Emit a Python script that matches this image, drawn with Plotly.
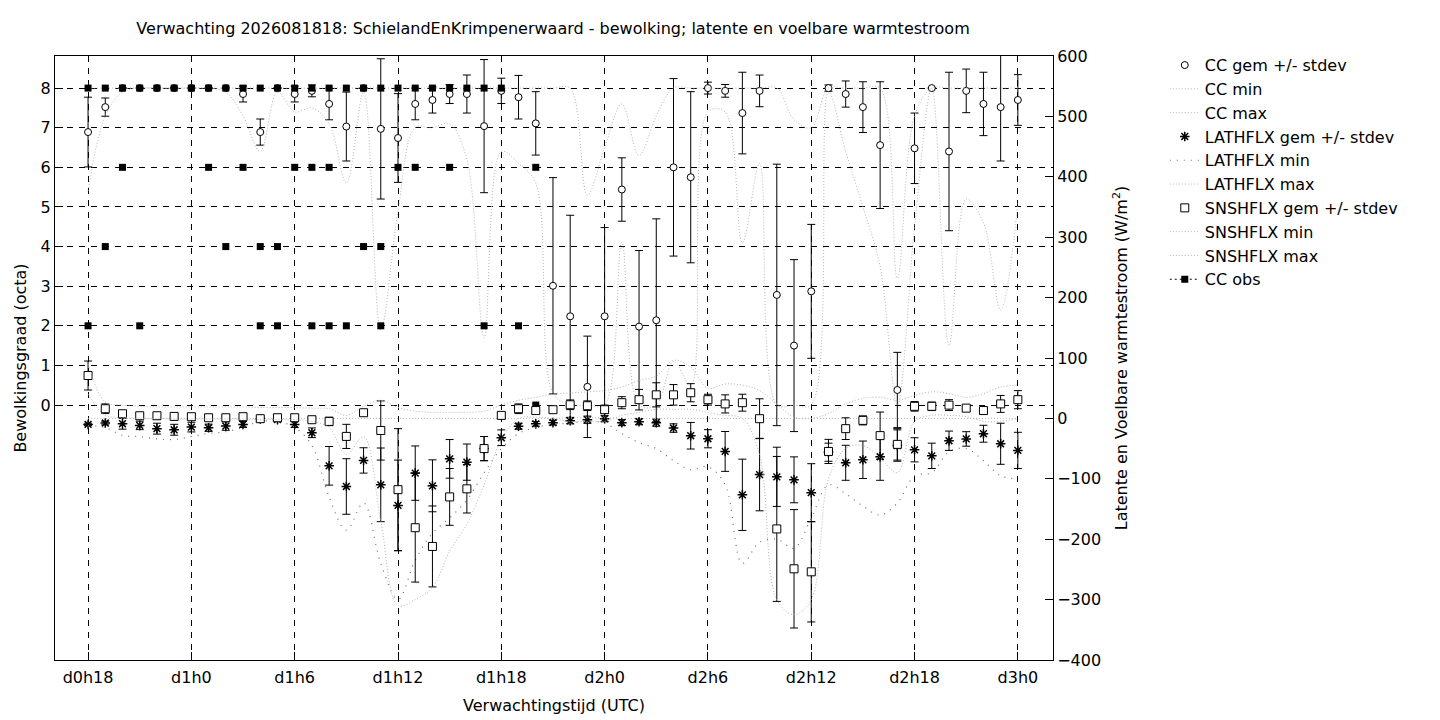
import plotly.graph_objects as go

# forecast hours since d0h0 (one per hour, d0h18 .. d3h0)
hours = list(range(18, 73))

tick_hours = [18, 24, 30, 36, 42, 48, 54, 60, 66, 72]
tick_labels = ["d0h18", "d1h0", "d1h6", "d1h12", "d1h18", "d2h0", "d2h6", "d2h12", "d2h18", "d3h0"]

# cloud cover (octa)
cc_mean = [6.89, 7.52, 8, 8, 8, 8, 8, 8, 8, 7.85, 6.89, 8, 7.85, 7.93, 7.6, 7.03, 8, 6.97, 6.74,
           7.6, 7.7, 7.85, 7.85, 7.04, 7.93, 7.77, 7.11, 3.01, 2.24, 0.46, 2.24, 5.44, 1.98, 2.14,
           6.0, 5.75, 8.0, 7.93, 7.37, 7.93, 2.78, 1.5, 2.87, 8.0, 7.85, 7.52, 6.56, 0.38, 6.48,
           8.0, 6.4, 7.93, 7.6, 7.52, 7.7]
cc_std = [0.88, 0.23, 0, 0, 0, 0, 0, 0, 0, 0.2, 0.33, 0, 0.2, 0.15, 0.4, 0.87, 0, 1.77, 1.12,
          0.4, 0.33, 0.24, 0.48, 1.68, 0.32, 0.55, 0.8, 2.73, 2.55, 1.28, 2.24, 0.8, 1.92, 2.56,
          2.24, 2.16, 0.15, 0.16, 1.03, 0.4, 3.3, 2.17, 1.69, 0.08, 0.33, 0.64, 1.6, 0.95, 0.89,
          0, 2.0, 0.55, 0.8, 1.36, 0.64]
cc_min = [5.4, 7.3, 7.9, 8, 8, 8, 8, 8, 7.9, 7.3, 6.4, 7.9, 7.4, 7.5, 7.1, 5.6, 7.9, 1.9, 4.9,
          7.0, 7.0, 7.1, 6.2, 1.7, 6.4, 6.1, 5.6, 0.3, 0, 0, 0, 4.1, 0, 0, 1.1, 0.5, 7.4, 7.4,
          4.1, 6.1, 0, 0, 0, 7.9, 6.4, 5.0, 3.5, 0, 4.5, 8, 1.5, 5.2, 4.6, 2.4, 5.1]
cc_max = [8, 8, 8, 8, 8, 8, 8, 8, 8, 8, 8, 8, 8, 8, 8, 8, 8, 8, 8, 8, 8, 8, 8, 8, 8, 8, 8,
          8, 8, 5.3, 6.5, 7.6, 6.3, 7.3, 8, 8, 8, 8, 8, 8, 8, 7.2, 7.0, 8, 8, 8, 8, 3.2, 7.3,
          8, 8, 8, 8, 8, 8]

# observed cloud cover (several stations per hour)
obs_hour = [18, 18, 19, 19, 20, 20, 21, 21, 22, 23, 24, 25, 25, 26, 26, 27, 27,
            28, 28, 28, 29, 29, 29, 30, 30, 31, 31, 31, 32, 32, 32, 33, 33, 34, 34,
            35, 35, 35, 36, 36, 37, 37, 38, 39, 39, 40, 41, 41, 42, 43, 44, 44]
obs_cc = [8, 2, 8, 4, 8, 6, 8, 2, 8, 8, 8, 8, 6, 8, 4, 8, 6,
          8, 4, 2, 8, 4, 2, 8, 6, 8, 6, 2, 8, 6, 2, 8, 2, 8, 4,
          8, 4, 2, 8, 6, 8, 6, 8, 8, 6, 8, 8, 2, 8, 2, 6, 0]

# latent heat flux (W/m2)
lath_mean = [-10, -7.7, -8.8, -11.6, -17, -18.8, -14.4, -15.5, -12.7, -10, -1, -2, -10, -23.8,
             -78.5, -112.7, -69.6, -110, -144, -90.6, -111.6, -67, -72.4, -50, -32, -13, -9, -7,
             -4, -2.2, -0.5, -7, -5.5, -7, -16, -28.7, -33.7, -54.7, -126.5, -93, -96.7, -101.7,
             -123, -56, -73.5, -68.5, -63.5, -45, -52, -62, -37, -34, -25.4, -42, -53]
lath_std = [2, 3, 9, 7, 9, 9, 8, 6, 7, 5, 3, 3, 5, 8, 32, 46, 21, 61, 75, 45, 43, 32, 30, 20,
            13, 5, 4, 4, 5, 6, 5, 5, 5, 6, 7, 22, 15, 33, 59, 60, 49, 38, 48, 15, 29, 31, 39,
            26, 20, 21, 16, 12, 14, 34, 30]
lath_min = [-12, -15, -28, -30, -34, -35, -30, -25, -22, -15, -5, -5, -15, -45, -130, -185, -140,
            -240, -300, -235, -190, -165, -135, -90, -50, -25, -15, -10, -8, -5, -8, -25, -40,
            -50, -70, -85, -80, -110, -240, -205, -200, -215, -165, -110, -125, -145, -160, -140,
            -95, -90, -55, -50, -70, -95, -100]
lath_max = [0, 0, 0, 0, 0, 0, 0, 0, 0, 0, 0, 0, 0, 0, 0, 0, 0, 0, 0, 0, 0, 0, 0, 0, 0, 0, 0,
            0, 1, 1, 1, 0, 0, 0, 0, 0, 0, 0, 0, 0, 0, 0, 0, 0, 0, 0, 0, 0, 0, 0, 0, 0, 0, 0, 0]

# sensible heat flux (W/m2)
snsh_mean = [71, 16, 7.7, 4.4, 4.4, 3.3, 2.8, 1.1, 1.1, 2.8, -0.5, 1.1, 1.1, -2.2, -5, -29.8, 9.4,
             -20, -118, -181, -212, -130, -116.6, -50, 5, 16, 13, 14.4, 22.6, 21, 14.4, 26, 31,
             39, 39, 42.5, 31, 24, 26, -0.5, -183, -249, -254, -54.7, -17, -3.3, -28.5, -43, 20,
             20, 22, 17, 13, 24, 31]
snsh_std = [24, 8, 5, 3, 3, 3, 3, 3, 3, 3, 3, 3, 3, 4, 7, 20, 4, 49, 101, 90, 67, 47, 40, 20,
            4, 8, 5, 5, 8, 8, 6, 10, 17, 20, 17, 15, 9, 15, 14, 33, 120, 98, 83, 20, 18, 7.5,
            39, 26, 8, 7, 9, 5, 5, 14, 15]
snsh_min = [40, 5, 2, 0, 0, -1, -1, -1, -1, -1, -2, -2, -2, -5, -15, -60, -30, -170, -310, -300,
            -280, -220, -175, -110, -35, 0, 2, 0, -5, -5, -5, 5, 10, 15, 15, 15, 10, 5, 0, -60,
            -300, -325, -300, -100, -50, -45, -65, -90, -5, 5, 5, 3, -5, -5, 0]
snsh_max = [90, 27, 22, 20, 19, 19, 19, 19, 19, 19, 18, 18, 18, 17, 16, 5, 20, 30, 18, 12, 10,
            10, 10, 12, 22, 30, 35, 40, 42, 44, 46, 52, 63, 70, 96, 85, 50, 57, 55, 46, 24, 2,
            0, 8, 24, 33, 35, 30, 38, 44, 41, 35, 41, 52, 55]

FONT = "DejaVu Sans"
FS = 16
light = "#b4b4b4"


def err(vals):
    return dict(type="data", array=vals, visible=True, color="black", thickness=1, width=4)


fig = go.Figure()

fig.add_trace(go.Scatter(x=hours, y=cc_mean, mode="markers", name="CC gem +/- stdev",
                         error_y=err(cc_std),
                         marker=dict(symbol="circle", size=7, color="white",
                                     line=dict(color="black", width=1))))
fig.add_trace(go.Scatter(x=hours, y=cc_min, mode="lines", name="CC min",
                         line=dict(color=light, width=1, dash="1px,2px", shape="spline")))
fig.add_trace(go.Scatter(x=hours, y=cc_max, mode="lines", name="CC max",
                         line=dict(color=light, width=1, dash="1px,2px", shape="spline")))

fig.add_trace(go.Scatter(x=hours, y=lath_mean, mode="markers", name="LATHFLX gem +/- stdev",
                         yaxis="y2", error_y=err(lath_std),
                         marker=dict(symbol="asterisk-open", size=8, color="black",
                                     line=dict(color="black", width=1.5))))
fig.add_trace(go.Scatter(x=hours, y=lath_min, mode="lines", name="LATHFLX min", yaxis="y2",
                         line=dict(color="#707070", width=1.2, dash="1px,6px", shape="spline")))
fig.add_trace(go.Scatter(x=hours, y=lath_max, mode="lines", name="LATHFLX max", yaxis="y2",
                         line=dict(color=light, width=1, dash="1px,2px", shape="spline")))

fig.add_trace(go.Scatter(x=hours, y=snsh_mean, mode="markers", name="SNSHFLX gem +/- stdev",
                         yaxis="y2", error_y=err(snsh_std),
                         marker=dict(symbol="square", size=8, color="white",
                                     line=dict(color="black", width=1))))
fig.add_trace(go.Scatter(x=hours, y=snsh_min, mode="lines", name="SNSHFLX min", yaxis="y2",
                         line=dict(color=light, width=1, dash="1px,2px", shape="spline")))
fig.add_trace(go.Scatter(x=hours, y=snsh_max, mode="lines", name="SNSHFLX max", yaxis="y2",
                         line=dict(color=light, width=1, dash="1px,2px", shape="spline")))

# obs: points only, gaps keep the dotted line out of the plot but in the legend
ox, oy = [], []
for h, v in zip(obs_hour, obs_cc):
    ox += [h, None]
    oy += [v, None]
fig.add_trace(go.Scatter(x=ox, y=oy, mode="lines+markers", name="CC obs", connectgaps=False,
                         line=dict(color="black", width=1, dash="2px,3px"),
                         marker=dict(symbol="square", size=7, color="black")))

# the page body adds an 8px offset, margins are trimmed to compensate
fig.update_layout(
    width=1440, height=720,
    margin=dict(l=47, r=395, t=48, b=68),
    paper_bgcolor="white", plot_bgcolor="white",
    font=dict(family=FONT, size=FS, color="black"),
    title=dict(text="Verwachting 2026081818: SchielandEnKrimpenerwaard - bewolking; latente en voelbare warmtestroom",
               x=0.3785, xanchor="center", y=0.972, yanchor="middle",
               font=dict(family=FONT, size=FS, color="black")),
    xaxis=dict(range=[16.08, 74.04], tickvals=tick_hours, ticktext=tick_labels,
               showgrid=True, gridcolor="black", griddash="6px,6px", gridwidth=1,
               ticks="inside", ticklen=8, tickcolor="black", automargin=False,
               tickfont=dict(size=FS), ticklabelstandoff=3,
               showline=True, linecolor="black", linewidth=1, mirror=True, zeroline=False,
               title=dict(text="Verwachtingstijd (UTC)", standoff=13, font=dict(size=FS))),
    yaxis=dict(range=[-6.435, 8.81], tickvals=[0, 1, 2, 3, 4, 5, 6, 7, 8],
               showgrid=True, gridcolor="black", griddash="6px,6px", gridwidth=1,
               ticks="inside", ticklen=8, tickcolor="black", automargin=False,
               tickfont=dict(size=FS),
               showline=True, linecolor="black", linewidth=1, mirror=True, zeroline=False,
               title=dict(text="Bewolkingsgraad (octa)", standoff=10, font=dict(size=FS))),
    yaxis2=dict(range=[-400, 600], overlaying="y", side="right", dtick=100,
                showgrid=False, ticks="inside", ticklen=8, tickcolor="black", automargin=False,
                tickfont=dict(size=FS),
                showline=True, linecolor="black", linewidth=1, zeroline=False,
                title=dict(text="Latente en Voelbare warmtestroom (W/m<sup>2</sup>)", standoff=15,
                           font=dict(size=FS))),
    legend=dict(x=1.112, y=1.013, xanchor="left", yanchor="top", bgcolor="rgba(0,0,0,0)",
                font=dict(family=FONT, size=FS, color="black"), tracegroupgap=0),
)

fig.write_html("out.html")
